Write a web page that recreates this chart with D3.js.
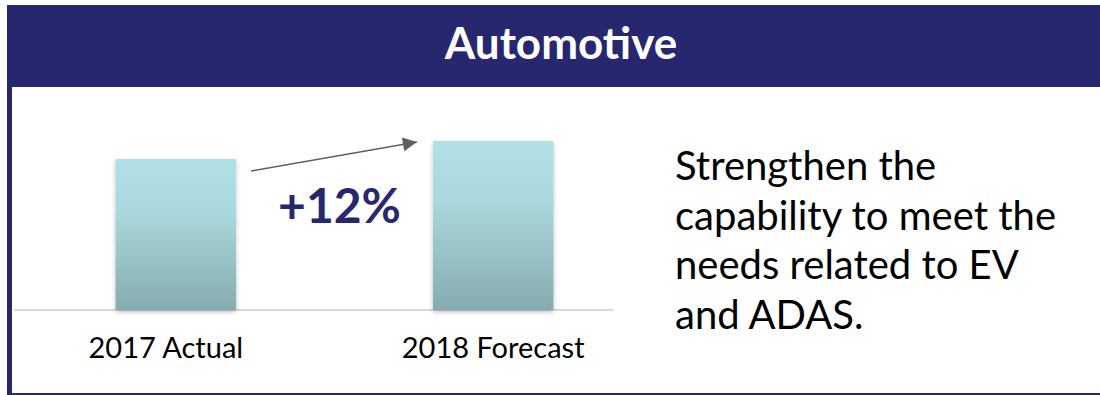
<!DOCTYPE html>
<html>
<head>
<meta charset="utf-8">
<script src="https://cdn.jsdelivr.net/npm/d3@7"></script>
<style>
  html, body { margin: 0; padding: 0; background: #fff; }
  svg { display: block; }
</style>
</head>
<body>
<div id="chart"></div>
<script>
// data (2017 taken as index 100)
var title = "Automotive"
var categories = ["2017 Actual", "2018 Forecast"]
var values = [100, 112]
var noteLines = ["Strengthen the", "capability to meet the", "needs related to EV", "and ADAS."]

var navy = "#27276f"
var font = "Lato, 'Open Sans', sans-serif"

var svg = d3.select("#chart")
  .append("svg")
  .attr("width", 1100)
  .attr("height", 395)

// gradient + shadow for the bars
var defs = svg.append("defs")
var grad = defs.append("linearGradient")
  .attr("id", "barGrad")
  .attr("x1", 0).attr("y1", 0).attr("x2", 0).attr("y2", 1)
grad.append("stop").attr("offset", "0%").attr("stop-color", "#b1dfe4")
grad.append("stop").attr("offset", "35%").attr("stop-color", "#aad8dc")
grad.append("stop").attr("offset", "100%").attr("stop-color", "#86acae")

var shadow = defs.append("filter")
  .attr("id", "shadow")
  .attr("x", "-20%").attr("y", "-20%")
  .attr("width", "140%").attr("height", "140%")
shadow.append("feDropShadow")
  .attr("dx", 0).attr("dy", 2)
  .attr("stdDeviation", 2)
  .attr("flood-color", "#000")
  .attr("flood-opacity", 0.25)

defs.append("marker")
  .attr("id", "arrowHead")
  .attr("viewBox", "0 0 10 10")
  .attr("refX", 10).attr("refY", 5)
  .attr("markerUnits", "userSpaceOnUse")
  .attr("markerWidth", 16).attr("markerHeight", 14)
  .attr("orient", "auto")
  .append("path")
  .attr("d", "M0,0L10,5L0,10Z")
  .attr("fill", "#5f5f5f")

// frame: header band, left border, bottom line
svg.append("rect")
  .attr("x", 7).attr("y", 5)
  .attr("width", 1093).attr("height", 82)
  .attr("fill", navy)
svg.append("rect")
  .attr("x", 7).attr("y", 5)
  .attr("width", 5).attr("height", 390)
  .attr("fill", navy)
svg.append("rect")
  .attr("x", 7).attr("y", 393)
  .attr("width", 1093).attr("height", 2)
  .attr("fill", navy)

svg.append("text")
  .attr("x", 561)
  .attr("y", 59)
  .attr("text-anchor", "middle")
  .style("font-family", font)
  .style("font-weight", "bold")
  .style("font-size", "44px")
  .style("fill", "#fff")
  .text(title)

// scales
var x = d3.scaleBand()
  .domain(categories)
  .range([14, 655])
  .paddingInner(0.62)
  .paddingOuter(0.32)

var y = d3.scaleLinear()
  .domain([0, d3.max(values)])
  .range([310, 141])

// baseline
svg.append("line")
  .attr("x1", 14).attr("x2", 613)
  .attr("y1", y(0)).attr("y2", y(0))
  .attr("stroke", "#d9d9d9")
  .attr("stroke-width", 2)

// bars
svg.selectAll(".bar")
  .data(values)
  .enter()
  .append("rect")
  .attr("class", "bar")
  .attr("x", function (d, i) { return x(categories[i]) })
  .attr("y", function (d) { return y(d) })
  .attr("width", x.bandwidth())
  .attr("height", function (d) { return y(0) - y(d) })
  .attr("fill", "url(#barGrad)")
  .attr("filter", "url(#shadow)")

// category labels
var xAxis = svg.append("g")
  .attr("transform", "translate(0," + y(0) + ")")
  .call(d3.axisBottom(x).tickSize(0).tickPadding(27))
xAxis.select(".domain").remove()
xAxis.selectAll("text")
  .style("font-family", font)
  .style("font-size", "29px")
  .style("fill", "#000")
  .attr("dx", function (d, i) { return i == 0 ? -10 : 0 })

// growth arrow and label
var x1 = x(categories[0]) + x.bandwidth() + 15,
  y1 = y(values[0]) + 12,
  x2 = x(categories[1]) - 16,
  y2 = y(values[1]) + 1
svg.append("line")
  .attr("x1", x1).attr("y1", y1)
  .attr("x2", x2).attr("y2", y2)
  .attr("stroke", "#5f5f5f")
  .attr("stroke-width", 1.5)
  .attr("marker-end", "url(#arrowHead)")

svg.append("text")
  .attr("x", (x(categories[0]) + x.bandwidth() + x(categories[1])) / 2 + 5)
  .attr("y", 223)
  .attr("text-anchor", "middle")
  .style("font-family", font)
  .style("font-weight", "bold")
  .style("font-size", "48px")
  .style("fill", navy)
  .text(d3.format("+.0%")(values[1] / values[0] - 1))

// note on the right
svg.append("g")
  .selectAll("text")
  .data(noteLines)
  .enter()
  .append("text")
  .attr("x", 675)
  .attr("y", function (d, i) { return 180 + i * 49.7 })
  .style("font-family", font)
  .style("font-size", "40px")
  .style("fill", "#000")
  .text(function (d) { return d })
</script>
</body>
</html>
